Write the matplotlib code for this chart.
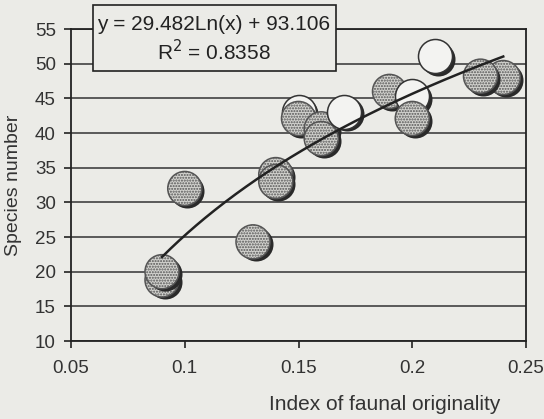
import numpy as np
import matplotlib
matplotlib.use("Agg")
import matplotlib.pyplot as plt
import matplotlib.transforms as mtransforms
from matplotlib.patches import Rectangle

# Data
dotted_x = [0.09, 0.09, 0.10, 0.13, 0.14, 0.14, 0.15, 0.16, 0.16, 0.19, 0.20, 0.24, 0.23]
dotted_y = [18.8, 20.0, 32.0, 24.3, 34.0, 33.0, 42.1, 40.6, 39.2, 46.0, 42.1, 48.0, 48.2]
open_x = [0.15, 0.17, 0.20, 0.21]
open_y = [43.1, 43.1, 45.3, 51.1]
fit_a, fit_b = 29.482, 93.106
x_ticks = [0.05, 0.1, 0.15, 0.2, 0.25]
x_ticklabels = ["0.05", "0.1", "0.15", "0.2", "0.25"]
y_ticks = [10, 15, 20, 25, 30, 35, 40, 45, 50, 55]

plt.rcParams['font.family'] = ['Liberation Sans', 'DejaVu Sans']
bg = '#ebebe7'
fig = plt.figure(figsize=(5.44, 4.19), dpi=100, facecolor=bg)
ax = fig.add_axes([71/544, 1-341/419, (526-71)/544, (341-29)/419])
ax.set_facecolor(bg)

ax.set_xlim(0.05, 0.25)
ax.set_ylim(10, 55)
ax.set_xticks(x_ticks)
ax.set_xticklabels(x_ticklabels)
ax.set_yticks(y_ticks)
ax.tick_params(direction='out', length=5, width=1.2, colors='#222222', labelsize=13.5, labelcolor='#333333')
ax.tick_params(axis='x', pad=9)
ax.tick_params(axis='y', pad=6)
for s in ax.spines.values():
    s.set_color('#222222')
    s.set_linewidth(1.3)
ax.yaxis.grid(True, color='#333333', linewidth=1.1)
ax.set_axisbelow(True)

shadow_tr = mtransforms.offset_copy(ax.transData, fig=fig, x=2.5, y=-2.5, units='dots')
ms = 600

# drawing order (back to front), as (series, index)
order = [('d', 0), ('d', 1), ('d', 2), ('d', 3), ('d', 4), ('d', 5),
         ('o', 0), ('d', 6), ('d', 7), ('d', 8), ('o', 1),
         ('d', 9), ('o', 2), ('d', 10), ('o', 3), ('d', 11), ('d', 12)]

z = 3
for kind, i in order:
    if kind == 'd':
        x, y = dotted_x[i], dotted_y[i]
    else:
        x, y = open_x[i], open_y[i]
    ax.scatter([x], [y], s=ms, color='#2a2a2a', transform=shadow_tr, zorder=z, linewidths=0)
    if kind == 'd':
        ax.scatter([x], [y], s=ms, facecolor='#d2d2ce', edgecolor='#555555', hatch='......',
                   linewidths=1.1, zorder=z + 1)
    else:
        ax.scatter([x], [y], s=ms, facecolor='#f3f3f1', edgecolor='#333333',
                   linewidths=1.1, zorder=z + 1)
    z += 2

xf = np.linspace(min(dotted_x + open_x), max(dotted_x + open_x), 200)
ax.plot(xf, fit_a * np.log(xf) + fit_b, color='#222222', linewidth=1.8, zorder=z + 5)

# equation box
fig.patches.append(Rectangle((93/544, 1-71/419), 243/544, 66/419, transform=fig.transFigure,
                             facecolor=bg, edgecolor='#222222', linewidth=1.2, zorder=20))
fig.text(214/544, 1-25/419, "y = 29.482Ln(x) + 93.106", ha='center', va='center',
         fontsize=15, color='#222222', zorder=21)
fig.text(214/544, 1-52/419, "R$^2$ = 0.8358", ha='center', va='center',
         fontsize=15, color='#222222', zorder=21)

fig.text(14/544, 1-185/419, "Species number", rotation=90, ha='center', va='center',
         fontsize=14, color='#333333')
fig.text(385/544, 1-404/419, "Index of faunal originality", ha='center', va='center',
         fontsize=15, color='#333333')

fig.savefig("out.png", dpi=100, facecolor=bg)
